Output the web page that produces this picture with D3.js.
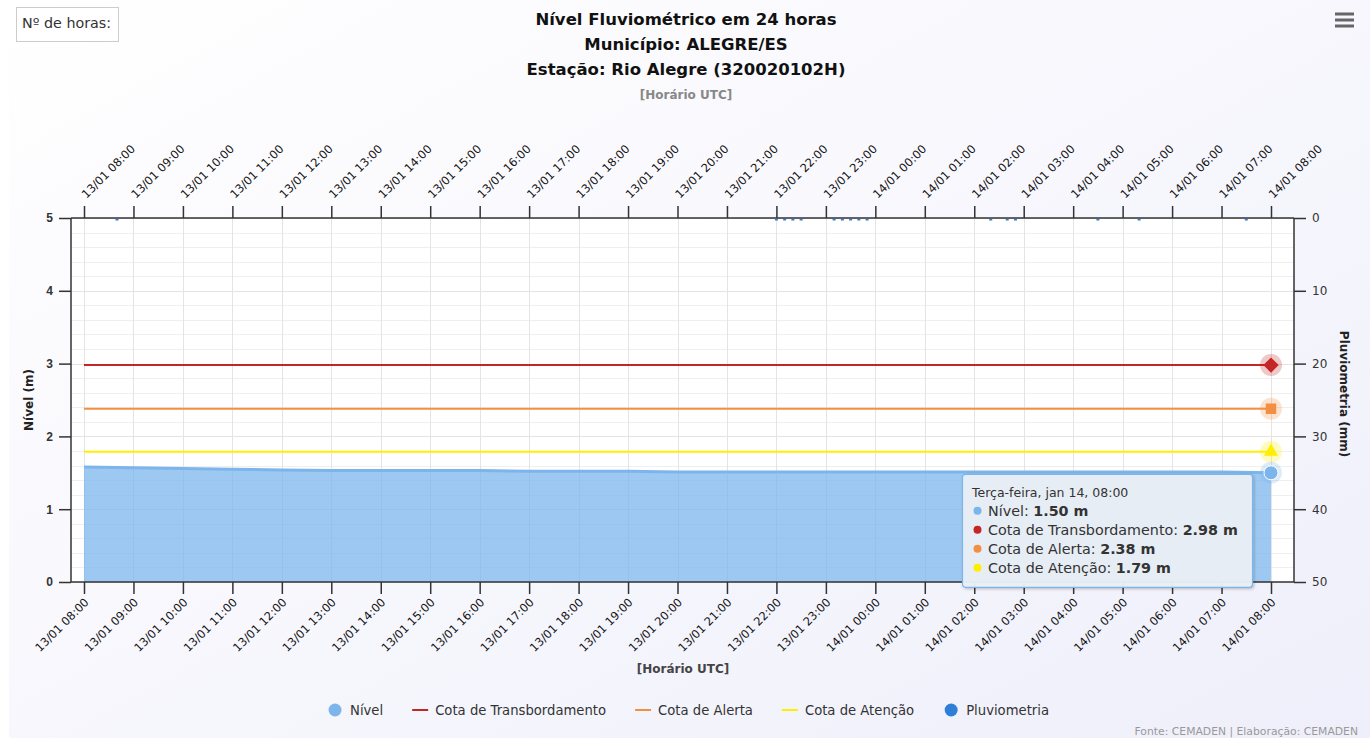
<!DOCTYPE html>
<html>
<head>
<meta charset="utf-8">
<script src="https://cdn.jsdelivr.net/npm/d3@7"></script>
<style>
  body { margin: 0; background: #ffffff; }
  text { font-family: "DejaVu Sans", Verdana, sans-serif; }
</style>
</head>
<body>
<script>
const width = 1370;
const height = 738;

// hourly river level (m), 13/01 08:00 -> 14/01 08:00 UTC
const levelStart = "2025-01-13T08:00:00Z";
const levelValues = [1.58, 1.57, 1.56, 1.55, 1.54, 1.53, 1.53, 1.53, 1.53, 1.52, 1.52, 1.52, 1.51,
  1.51, 1.51, 1.51, 1.51, 1.51, 1.51, 1.51, 1.51, 1.51, 1.51, 1.51, 1.50];

// reference levels (m)
const thresholdNames = ["Cota de Transbordamento", "Cota de Alerta", "Cota de Atenção"];
const thresholdValues = [2.98, 2.38, 1.79];
const thresholdColors = ["#c42525", "#f28f43", "#ffee00"];
const thresholdSymbols = [d3.symbolDiamond2, d3.symbolSquare2, d3.symbolTriangle2];

// 10-minute rainfall (mm)
const rainTimes = ["2025-01-13T08:40:00Z", "2025-01-13T22:00:00Z", "2025-01-13T22:10:00Z", "2025-01-13T22:20:00Z",
  "2025-01-13T22:30:00Z", "2025-01-13T23:10:00Z", "2025-01-13T23:20:00Z", "2025-01-13T23:30:00Z",
  "2025-01-13T23:40:00Z", "2025-01-13T23:50:00Z", "2025-01-14T02:20:00Z", "2025-01-14T02:40:00Z",
  "2025-01-14T02:50:00Z", "2025-01-14T04:30:00Z", "2025-01-14T05:20:00Z", "2025-01-14T07:30:00Z"];
const rainValues = [0.2, 0.2, 0.2, 0.2, 0.2, 0.2, 0.2, 0.2, 0.2, 0.2, 0.2, 0.2, 0.2, 0.2, 0.2, 0.2];

const titleLines = ["Nível Fluviométrico em 24 horas", "Município: ALEGRE/ES", "Estação: Rio Alegre (320020102H)"];
const legendNames = ["Nível", "Cota de Transbordamento", "Cota de Alerta", "Cota de Atenção", "Pluviometria"];

const levelColor = "#7cb5ec";
const rainColor = "#2f7ed8";

const plot = { left: 71, right: 1294, top: 218, bottom: 582 };

const t0 = new Date(levelStart);
const levelData = levelValues.map((v, i) => ({ t: d3.utcHour.offset(t0, i), v: v }));
const t1 = levelData[levelData.length - 1].t;
const rainData = rainTimes.map((t, i) => ({ t: new Date(t), v: rainValues[i] }));

const x = d3.scaleUtc().domain([t0, t1]).range([84, 1271]);
const y = d3.scaleLinear().domain([0, 5]).range([plot.bottom, plot.top]);
const yRain = d3.scaleLinear().domain([0, 50]).range([plot.top, plot.bottom]);
const fmt = d3.utcFormat("%d/%m %H:%M");
const hours = d3.utcHour.range(t0, d3.utcHour.offset(t1, 1));

const svg = d3.select("body").append("svg")
  .attr("width", width)
  .attr("height", height);

let defs = svg.append("defs");
let bg = defs.append("linearGradient").attr("id", "bg")
  .attr("x1", 0).attr("y1", 0).attr("x2", 1).attr("y2", 1);
bg.append("stop").attr("offset", 0).attr("stop-color", "#ffffff");
bg.append("stop").attr("offset", 1).attr("stop-color", "#efeffb");
let shadow = defs.append("filter").attr("id", "shadow").attr("x", "-10%").attr("y", "-10%").attr("width", "130%").attr("height", "140%");
shadow.append("feDropShadow").attr("dx", 1).attr("dy", 1).attr("stdDeviation", 1.5).attr("flood-color", "#000").attr("flood-opacity", 0.25);

svg.append("rect")
  .attr("x", 9).attr("y", 0)
  .attr("width", width - 9).attr("height", height)
  .attr("fill", "url(#bg)");

// plot background + grid
svg.append("rect")
  .attr("x", plot.left).attr("y", plot.top)
  .attr("width", plot.right - plot.left).attr("height", plot.bottom - plot.top)
  .attr("fill", "#ffffff");

svg.append("g").selectAll("line")
  .data(d3.range(0, 5.01, 0.2))
  .enter().append("line")
  .attr("x1", plot.left).attr("x2", plot.right)
  .attr("y1", d => Math.round(y(d)) + 0.5).attr("y2", d => Math.round(y(d)) + 0.5)
  .attr("stroke", d => Math.abs(d - Math.round(d)) < 0.01 ? "#e4e4e4" : "#efefef");

svg.append("g").selectAll("line")
  .data(hours)
  .enter().append("line")
  .attr("x1", d => Math.round(x(d)) + 0.5).attr("x2", d => Math.round(x(d)) + 0.5)
  .attr("y1", plot.top).attr("y2", plot.bottom)
  .attr("stroke", "#e4e4e4");

// level area
svg.append("path")
  .datum(levelData)
  .attr("fill", levelColor)
  .attr("fill-opacity", 0.75)
  .attr("d", d3.area().x(d => x(d.t)).y0(y(0)).y1(d => y(d.v)));

svg.append("path")
  .datum(levelData)
  .attr("fill", "none")
  .attr("stroke", levelColor)
  .attr("stroke-width", 3)
  .attr("d", d3.line().x(d => x(d.t)).y(d => y(d.v)));

// threshold lines
thresholdValues.forEach((v, i) => {
  svg.append("line")
    .attr("x1", x(t0)).attr("x2", x(t1))
    .attr("y1", y(v)).attr("y2", y(v))
    .attr("stroke", thresholdColors[i])
    .attr("stroke-width", 2);
});

// rainfall columns (reversed right axis)
svg.append("g").selectAll("rect")
  .data(rainData)
  .enter().append("rect")
  .attr("x", d => x(d.t) - 1.5)
  .attr("y", yRain(0) + 1)
  .attr("width", 3)
  .attr("height", d => Math.max(1.5, yRain(d.v) - yRain(0)))
  .attr("fill", rainColor);

// axes
const axisColor = "#333";
const tickFont = "DejaVu Sans, Verdana, sans-serif";
svg.append("line").attr("x1", plot.left).attr("x2", plot.left).attr("y1", plot.top).attr("y2", plot.bottom)
  .attr("stroke", axisColor).attr("stroke-width", 1.5);
svg.append("line").attr("x1", plot.right).attr("x2", plot.right).attr("y1", plot.top).attr("y2", plot.bottom)
  .attr("stroke", axisColor).attr("stroke-width", 1.5);
svg.append("line").attr("x1", plot.left).attr("x2", plot.right).attr("y1", plot.top).attr("y2", plot.top)
  .attr("stroke", axisColor).attr("stroke-width", 1.5);
svg.append("line").attr("x1", plot.left).attr("x2", plot.right).attr("y1", plot.bottom).attr("y2", plot.bottom)
  .attr("stroke", axisColor).attr("stroke-width", 1.5);

// left axis
let yAxis = svg.append("g").attr("transform", `translate(${plot.left},0)`)
  .call(d3.axisLeft(y).tickValues([0, 1, 2, 3, 4, 5]).tickSize(12).tickPadding(6).tickFormat(d3.format("d")));
yAxis.select(".domain").remove();
yAxis.selectAll("line").attr("stroke", axisColor).attr("stroke-width", 1.5);
yAxis.selectAll("text").attr("fill", "#333").style("font-size", "12px").style("font-weight", "bold")
  .style("font-family", "Liberation Sans, Arial, sans-serif");

// right axis
let rAxis = svg.append("g").attr("transform", `translate(${plot.right},0)`)
  .call(d3.axisRight(yRain).tickValues([0, 10, 20, 30, 40, 50]).tickSize(12).tickPadding(6));
rAxis.select(".domain").remove();
rAxis.selectAll("line").attr("stroke", axisColor).attr("stroke-width", 1.5);
rAxis.selectAll("text").attr("fill", "#333").style("font-size", "12px")
  .style("font-family", tickFont);

// bottom axis
let xAxis = svg.append("g").attr("transform", `translate(0,${plot.bottom})`)
  .call(d3.axisBottom(x).tickValues(hours).tickSize(12).tickFormat(fmt));
xAxis.select(".domain").remove();
xAxis.selectAll("line").attr("stroke", axisColor).attr("stroke-width", 1.5);
xAxis.selectAll("text")
  .attr("fill", "#111").style("font-size", "11.5px").style("font-family", tickFont)
  .attr("text-anchor", "end")
  .attr("dy", null).attr("y", null)
  .attr("transform", "translate(5,21) rotate(-45)");

// top axis
let xTop = svg.append("g").attr("transform", `translate(0,${plot.top})`)
  .call(d3.axisTop(x).tickValues(hours).tickSize(12).tickFormat(fmt));
xTop.select(".domain").remove();
xTop.selectAll("line").attr("stroke", axisColor).attr("stroke-width", 1.5);
xTop.selectAll("text")
  .attr("fill", "#111").style("font-size", "11.5px").style("font-family", tickFont)
  .attr("text-anchor", "start")
  .attr("dy", null).attr("y", null)
  .attr("transform", "translate(2,-19) rotate(-45)");

// axis titles
svg.append("text")
  .attr("transform", `translate(33,${(plot.top + plot.bottom) / 2}) rotate(-90)`)
  .attr("text-anchor", "middle")
  .style("font-size", "12px").style("font-weight", "bold").attr("fill", "#222")
  .text("Nível (m)");
svg.append("text")
  .attr("transform", `translate(1340,${(plot.top + plot.bottom) / 2 - 6}) rotate(90)`)
  .attr("text-anchor", "middle")
  .style("font-size", "12px").style("font-weight", "bold").attr("fill", "#222")
  .text("Pluviometria (mm)");
svg.append("text")
  .attr("x", 683).attr("y", 673)
  .attr("text-anchor", "middle")
  .style("font-size", "12px").style("font-weight", "bold").attr("fill", "#444")
  .text("[Horário UTC]");

// titles
svg.append("g").selectAll("text")
  .data(titleLines)
  .enter().append("text")
  .attr("x", 686)
  .attr("y", (d, i) => 25 + i * 25)
  .attr("text-anchor", "middle")
  .style("font-size", "16.5px").style("font-weight", "bold").attr("fill", "#111")
  .text(d => d);
svg.append("text")
  .attr("x", 686).attr("y", 99)
  .attr("text-anchor", "middle")
  .style("font-size", "12px").style("font-weight", "bold").attr("fill", "#888")
  .text("[Horário UTC]");

// hours box
svg.append("rect")
  .attr("x", 16.5).attr("y", 7.5).attr("width", 102).attr("height", 34)
  .attr("fill", "#ffffff").attr("stroke", "#cccccc");
svg.append("text")
  .attr("x", 22).attr("y", 28)
  .style("font-size", "14.3px").attr("fill", "#333")
  .text("Nº de horas:");

// menu icon
svg.append("g").selectAll("line")
  .data([0, 6, 12])
  .enter().append("line")
  .attr("x1", 1335).attr("x2", 1354)
  .attr("y1", d => 14 + d).attr("y2", d => 14 + d)
  .attr("stroke", "#666").attr("stroke-width", 3);

// hovered points at last timestamp
const lastX = x(t1);
thresholdValues.forEach((v, i) => {
  svg.append("circle").attr("cx", lastX).attr("cy", y(v)).attr("r", 11)
    .attr("fill", thresholdColors[i]).attr("fill-opacity", 0.25);
  svg.append("path")
    .attr("transform", `translate(${lastX},${y(v)})`)
    .attr("d", d3.symbol().type(thresholdSymbols[i]).size(i === 0 ? 150 : 140)())
    .attr("fill", thresholdColors[i]);
});
const lastLevel = levelData[levelData.length - 1];
svg.append("circle").attr("cx", lastX).attr("cy", y(lastLevel.v)).attr("r", 11)
  .attr("fill", levelColor).attr("fill-opacity", 0.25);
svg.append("circle").attr("cx", lastX).attr("cy", y(lastLevel.v)).attr("r", 7)
  .attr("fill", levelColor).attr("stroke", "#ffffff").attr("stroke-width", 1);

// tooltip
const tipX = lastX - 309;
const tipY = y(lastLevel.v) + 1;
let tip = svg.append("g").attr("transform", `translate(${tipX},${tipY})`);
tip.append("rect")
  .attr("x", 0.5).attr("y", 0.5).attr("width", 290).attr("height", 113).attr("rx", 3)
  .attr("fill", "#eaeff5").attr("fill-opacity", 0.96)
  .attr("stroke", levelColor).attr("stroke-width", 1.2)
  .attr("filter", "url(#shadow)");
tip.append("text")
  .attr("x", 10).attr("y", 23)
  .style("font-size", "12.5px").attr("fill", "#333")
  .text("Terça-feira, jan 14, 08:00");
const tipNames = ["Nível"].concat(thresholdNames);
const tipValues = [lastLevel.v].concat(thresholdValues);
const tipColors = [levelColor].concat(thresholdColors);
tipNames.forEach((n, i) => {
  tip.append("circle").attr("cx", 15.5).attr("cy", 37 + i * 19).attr("r", 4).attr("fill", tipColors[i]);
  let t = tip.append("text")
    .attr("x", 26).attr("y", 42 + i * 19)
    .style("font-size", "14.3px").attr("fill", "#333");
  t.append("tspan").text(n + ": ");
  t.append("tspan").style("font-weight", "bold").text(d3.format(".2f")(tipValues[i]) + " m");
});

// legend
const legendColors = [levelColor].concat(thresholdColors).concat([rainColor]);
let legend = svg.append("g");
let lx = 0;
legendNames.forEach((n, i) => {
  let item = legend.append("g").attr("transform", `translate(${lx},0)`);
  if (i === 0 || i === 4) {
    item.append("circle").attr("cx", 8).attr("cy", 0).attr("r", 6.5).attr("fill", legendColors[i]);
  } else {
    item.append("line").attr("x1", 0).attr("x2", 16).attr("y1", 0).attr("y2", 0)
      .attr("stroke", legendColors[i]).attr("stroke-width", 2);
  }
  let t = item.append("text")
    .attr("x", 23).attr("y", 5)
    .style("font-size", "13.2px").attr("fill", "#333")
    .text(n);
  lx += 23 + t.node().getComputedTextLength() + 29;
});
lx -= 29;
legend.attr("transform", `translate(${688 - lx / 2},710)`);

// credits
svg.append("text")
  .attr("x", 1358).attr("y", 735)
  .attr("text-anchor", "end")
  .style("font-size", "10.8px").attr("fill", "#999")
  .text("Fonte: CEMADEN | Elaboração: CEMADEN");
</script>
</body>
</html>
